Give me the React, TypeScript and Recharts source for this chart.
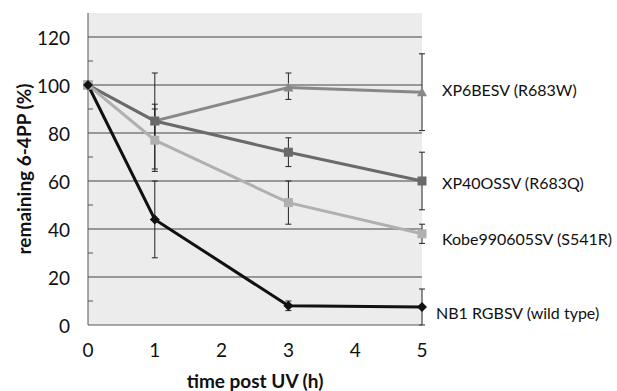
import {
  LineChart,
  Line,
  XAxis,
  YAxis,
  CartesianGrid,
  ReferenceLine,
  ErrorBar,
} from "recharts";

const times = [0, 1, 3, 5];

const seriesNames = [
  "XP6BESV (R683W)",
  "XP40OSSV (R683Q)",
  "Kobe990605SV (S541R)",
  "NB1 RGBSV (wild type)",
];

const xp6 = [100, 85, 99, 97];
const xp6Err = [[0, 0], [20, 20], [5, 6], [16, 16]];
const xp40 = [100, 85, 72, 60];
const xp40Err = [[0, 0], [7, 7], [6, 6], [12, 12]];
const kobe = [100, 77, 51, 38];
const kobeErr = [[0, 0], [13, 13], [9, 9], [4, 4]];
const nb1 = [100, 44, 8, 7.5];
const nb1Err = [[0, 0], [16, 16], [2, 2], [7.5, 7.5]];

const xTicks = [0, 1, 2, 3, 4, 5];
const yTicks = [0, 10, 20, 30, 40, 50, 60, 70, 80, 90, 100, 110, 120];
const gridValues = [20, 40, 60, 80, 100, 120];

const data = times.map((t, i) => ({
  t,
  xp6: xp6[i],
  xp6Err: xp6Err[i],
  xp40: xp40[i],
  xp40Err: xp40Err[i],
  kobe: kobe[i],
  kobeErr: kobeErr[i],
  nb1: nb1[i],
  nb1Err: nb1Err[i],
}));

const FONT = "Lato, 'Open Sans', sans-serif";
const Y_TICK_MARGIN = 18;

type DotProps = { cx?: number; cy?: number; index?: number };

const Triangle = ({ cx = 0, cy = 0 }: DotProps) => (
  <polygon
    points={`${cx},${cy - 5} ${cx - 5},${cy + 4} ${cx + 5},${cy + 4}`}
    fill="#888"
  />
);
const Square = ({ cx = 0, cy = 0 }: DotProps) => (
  <rect x={cx - 4.5} y={cy - 4.5} width={9} height={9} fill="#6a6a6a" />
);
const Star = ({ cx = 0, cy = 0 }: DotProps) => (
  <rect x={cx - 4.5} y={cy - 4.5} width={9} height={9} fill="#b0b0b0" />
);
const Diamond = ({ cx = 0, cy = 0 }: DotProps) => (
  <polygon
    points={`${cx},${cy - 5} ${cx + 5},${cy} ${cx},${cy + 5} ${cx - 5},${cy}`}
    fill="#111"
  />
);

// y ticks: label on every 20, short inward mark on the odd tens
const YTick = (props: { x?: number; y?: number; payload?: { value: number } }) => {
  const x = props.x ?? 0;
  const y = props.y ?? 0;
  const v = props.payload?.value ?? 0;
  const axisX = x + Y_TICK_MARGIN;
  if (v % 20 !== 0) {
    return <line x1={axisX} x2={axisX + 5} y1={y} y2={y} stroke="#555" />;
  }
  return (
    <text
      x={x}
      y={y}
      textAnchor="end"
      dominantBaseline="central"
      fontFamily={FONT}
      fontSize={19}
      fill="#111"
    >
      {v}
    </text>
  );
};

const endLabel =
  (name: string, dx: number, dy: number) =>
  (props: { x?: number; y?: number; index?: number }) => {
    if (props.index !== times.length - 1) return null;
    return (
      <text
        x={(props.x ?? 0) + dx}
        y={(props.y ?? 0) + dy}
        fontFamily={FONT}
        fontSize={16}
        fill="#111"
        dominantBaseline="central"
      >
        {name}
      </text>
    );
  };

export default function App() {
  return (
    <div style={{ position: "absolute", left: 0, top: 0, background: "#fff" }}>
      <LineChart
        width={617}
        height={391}
        data={data}
        margin={{ top: 13, right: 195, bottom: 0, left: 8 }}
      >
        <CartesianGrid
          horizontal={false}
          vertical={false}
          fill="#ececec"
          fillOpacity={1}
        />
        {gridValues.map((v) => (
          <ReferenceLine key={v} y={v} stroke="#444" strokeWidth={1} />
        ))}
        <XAxis
          type="number"
          dataKey="t"
          domain={[0, 5]}
          ticks={xTicks}
          height={66}
          axisLine={{ stroke: "#555" }}
          tickLine={false}
          tickSize={0}
          tickMargin={19}
          tick={{ fontFamily: FONT, fontSize: 19, fill: "#111" }}
          label={{
            value: "time post UV (h)",
            position: "insideBottom",
            offset: 3,
            style: { fontFamily: FONT, fontSize: 19, fontWeight: 700, fill: "#111" },
          }}
        />
        <YAxis
          type="number"
          domain={[0, 130]}
          ticks={yTicks}
          interval={0}
          width={80}
          axisLine={{ stroke: "#555" }}
          tickLine={false}
          tickSize={0}
          tickMargin={Y_TICK_MARGIN}
          tick={<YTick />}
          label={{
            value: "remaining 6-4PP (%)",
            angle: -90,
            position: "insideLeft",
            offset: 16,
            style: {
              textAnchor: "middle",
              fontFamily: FONT,
              fontSize: 19,
              fontWeight: 700,
              fill: "#111",
            },
          }}
        />
        <Line
          dataKey="xp6"
          stroke="#888"
          strokeWidth={3}
          dot={<Triangle />}
          label={endLabel(seriesNames[0], 20, -3)}
          isAnimationActive={false}
        >
          <ErrorBar dataKey="xp6Err" width={3} stroke="#222" strokeWidth={1} />
        </Line>
        <Line
          dataKey="xp40"
          stroke="#6a6a6a"
          strokeWidth={3}
          dot={<Square />}
          label={endLabel(seriesNames[1], 20, 1)}
          isAnimationActive={false}
        >
          <ErrorBar dataKey="xp40Err" width={3} stroke="#222" strokeWidth={1} />
        </Line>
        <Line
          dataKey="kobe"
          stroke="#b0b0b0"
          strokeWidth={3}
          dot={<Star />}
          label={endLabel(seriesNames[2], 20, 5)}
          isAnimationActive={false}
        >
          <ErrorBar dataKey="kobeErr" width={3} stroke="#222" strokeWidth={1} />
        </Line>
        <Line
          dataKey="nb1"
          stroke="#111"
          strokeWidth={3}
          dot={<Diamond />}
          label={endLabel(seriesNames[3], 14, 5)}
          isAnimationActive={false}
        >
          <ErrorBar dataKey="nb1Err" width={3} stroke="#222" strokeWidth={1} />
        </Line>
      </LineChart>
    </div>
  );
}
